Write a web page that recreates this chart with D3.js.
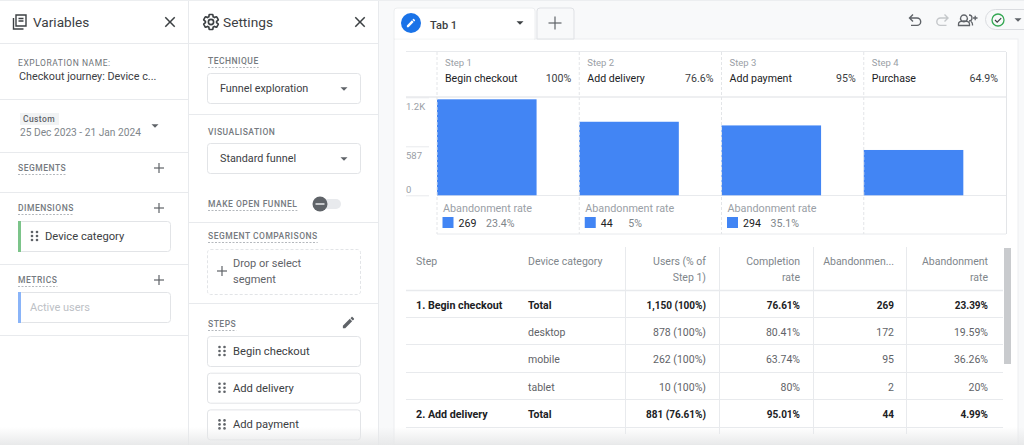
<!DOCTYPE html>
<html>
<head>
<meta charset="utf-8">
<script src="https://cdn.jsdelivr.net/npm/d3@7/dist/d3.min.js"></script>
<style>
  html, body { margin: 0; padding: 0; background: #fff; overflow: hidden; }
  svg { display: block; font-family: Roboto, sans-serif; }
</style>
</head>
<body>
<script>
// funnel chart data
var steps = ["Begin checkout", "Add delivery", "Add payment", "Purchase"];
var stepUsers = [1150, 881, 837, 543];
var stepRates = ["100%", "76.6%", "95%", "64.9%"];
var abandonCounts = [269, 44, 294, null];
var abandonRates = ["23.4%", "5%", "35.1%", null];
var yTicks = [0, 587, 1174];
var yTickLabels = ["0", "587", "1.2K"];

// table data
var tableStep = ["1. Begin checkout", "", "", "", "2. Add delivery"];
var tableDevice = ["Total", "desktop", "mobile", "tablet", "Total"];
var tableUsers = ["1,150 (100%)", "878 (100%)", "262 (100%)", "10 (100%)", "881 (76.61%)"];
var tableCompletion = ["76.61%", "80.41%", "63.74%", "80%", "95.01%"];
var tableAbandons = ["269", "172", "95", "2", "44"];
var tableAbandonRate = ["23.39%", "19.59%", "36.26%", "20%", "4.99%"];
var tableBold = [true, false, false, false, true];

// side panel labels
var settingsSteps = ["Begin checkout", "Add delivery", "Add payment"];

var ICON_CLOSE = "M19 6.41L17.59 5 12 10.59 6.41 5 5 6.41 10.59 12 5 17.59 6.41 19 12 13.41 17.59 19 19 17.59 13.41 12z";
var ICON_GEAR = "M19.43 12.98c.04-.32.07-.64.07-.98s-.03-.66-.07-.98l2.11-1.65c.19-.15.24-.42.12-.64l-2-3.46c-.12-.22-.39-.3-.61-.22l-2.49 1c-.52-.4-1.08-.73-1.69-.98l-.38-2.65C14.46 2.18 14.25 2 14 2h-4c-.25 0-.46.18-.49.42l-.38 2.65c-.61.25-1.17.59-1.69.98l-2.49-1c-.23-.09-.49 0-.61.22l-2 3.46c-.13.22-.07.49.12.64l2.11 1.65c-.04.32-.07.65-.07.98s.03.66.07.98l-2.11 1.65c-.19.15-.24.42-.12.64l2 3.46c.12.22.39.3.61.22l2.49-1c.52.4 1.08.73 1.69.98l.38 2.65c.03.24.24.42.49.42h4c.25 0 .46-.18.49-.42l.38-2.65c.61-.25 1.17-.59 1.69-.98l2.49 1c.23.09.49 0 .61-.22l2-3.46c.12-.22.07-.49-.12-.64l-2.11-1.65zM12 15.5c-1.93 0-3.5-1.57-3.5-3.5s1.57-3.5 3.5-3.5 3.5 1.57 3.5 3.5-1.57 3.5-3.5 3.5z";
var ICON_EDIT = "M3 17.25V21h3.75L17.81 9.94l-3.75-3.75L3 17.25zM20.71 7.04c.39-.39.39-1.02 0-1.41l-2.34-2.34c-.39-.39-1.02-.39-1.41 0l-1.83 1.83 3.75 3.75 1.83-1.83z";

var BLUE = "#4285f4", LINE = "#e8eaed", DARK = "#3c4043", GREY = "#80868b";

var svg = d3.select("body").append("svg").attr("width", 1024).attr("height", 445);

function text(parent, x, y, str, size, color, opts) {
  opts = opts || {};
  return parent.append("text")
    .attr("x", x).attr("y", y)
    .attr("font-size", size)
    .attr("fill", color)
    .attr("font-weight", opts.weight || 400)
    .attr("letter-spacing", opts.spacing || null)
    .attr("text-anchor", opts.anchor || "start")
    .text(str);
}

function line(parent, x1, y1, x2, y2, color, dash) {
  return parent.append("line")
    .attr("x1", x1).attr("y1", y1).attr("x2", x2).attr("y2", y2)
    .attr("stroke", color || LINE)
    .attr("stroke-dasharray", dash || null);
}

function icon(parent, path, x, y, size, color) {
  return parent.append("path")
    .attr("d", path)
    .attr("fill", color)
    .attr("transform", "translate(" + x + "," + y + ") scale(" + size / 24 + ")");
}

function plus(parent, cx, cy, r, color) {
  line(parent, cx - r, cy, cx + r, cy, color || "#5f6368").attr("stroke-width", 1.2);
  line(parent, cx, cy - r, cx, cy + r, color || "#5f6368").attr("stroke-width", 1.2);
}

function caret(parent, cx, cy, color) {
  parent.append("path")
    .attr("d", d3.line()([[cx - 3.5, cy - 1.8], [cx + 3.5, cy - 1.8], [cx, cy + 1.8]]) + "Z")
    .attr("fill", color || "#5f6368");
}

function sectionLabel(parent, x, y, str, dashed) {
  var t = text(parent, x, y, str, 8.5, "#757a80", { spacing: "0.5px", weight: 500 });
  if (dashed) {
    var w = t.node().getComputedTextLength();
    line(parent, x, y + 3.5, x + w, y + 3.5, "#b4b8bd", "2 1.5");
  }
}

function box(parent, x, y, w, h, dash) {
  return parent.append("rect")
    .attr("x", x + 0.5).attr("y", y + 0.5)
    .attr("width", w).attr("height", h)
    .attr("rx", 3)
    .attr("fill", "#fff")
    .attr("stroke", "#e2e4e7")
    .attr("stroke-dasharray", dash || null);
}

function dragDots(parent, x, cy) {
  [-4, 0, 4].forEach(function (dy) {
    [0, 5].forEach(function (dx) {
      parent.append("circle")
        .attr("cx", x + dx).attr("cy", cy + dy).attr("r", 1.3)
        .attr("fill", "#5f6368");
    });
  });
}

function drawVariables(g) {
  g.append("path")
    .attr("d", "M16 15h10v11h-10zM13.5 18v11h10M18.5 18.5h5M18.5 21h5")
    .attr("fill", "none").attr("stroke", "#3c4043").attr("stroke-width", 1.4);
  text(g, 33, 27, "Variables", 13.6, DARK);
  icon(g, ICON_CLOSE, 161, 13, 18, "#3c4043");

  [43.5, 99.5, 152.5, 192.5, 264.5, 335.5].forEach(function (y) {
    line(g, 0, y, 188, y);
  });

  text(g, 18, 66, "EXPLORATION NAME:", 8.5, "#6f7479", { spacing: "0.55px" });
  text(g, 19, 80, "Checkout journey: Device c...", 10.8, DARK);

  g.append("rect").attr("x", 20).attr("y", 113).attr("width", 39).attr("height", 12).attr("fill", "#f1f3f4");
  text(g, 23, 122, "Custom", 8.5, "#5f6368", { spacing: "0.4px", weight: 500 });
  text(g, 20, 136, "25 Dec 2023 - 21 Jan 2024", 10.2, "#80868b");
  caret(g, 155, 126);

  sectionLabel(g, 18, 171, "SEGMENTS", true);
  plus(g, 159, 168, 5);
  sectionLabel(g, 18, 211, "DIMENSIONS", true);
  plus(g, 159, 208, 5);
  sectionLabel(g, 18, 283, "METRICS", true);
  plus(g, 159, 280, 5);

  box(g, 18, 221, 152, 30);
  g.append("rect").attr("x", 18).attr("y", 221).attr("width", 3).attr("height", 31).attr("fill", "#7cc48a");
  dragDots(g, 32, 236);
  text(g, 45, 240, "Device category", 11.2, DARK);

  box(g, 18, 292, 152, 30);
  g.append("rect").attr("x", 18).attr("y", 292).attr("width", 3).attr("height", 31).attr("fill", "#8ab4f8");
  text(g, 30, 311, "Active users", 11, "#bdc1c6");
}

function drawSettings(g) {
  line(g, 188.5, 0, 188.5, 445);
  line(g, 378.5, 0, 378.5, 445);
  icon(g, ICON_GEAR, 202, 13, 18, "none").attr("stroke", "#3c4043").attr("stroke-width", 2.2);
  text(g, 223, 27, "Settings", 13.7, DARK);
  icon(g, ICON_CLOSE, 351, 13, 18, "#3c4043");

  [43.5, 114.5, 222.5, 303.5].forEach(function (y) {
    line(g, 189, y, 378, y);
  });

  sectionLabel(g, 208, 64, "TECHNIQUE", true);
  box(g, 207, 73, 153, 30);
  text(g, 220, 92, "Funnel exploration", 10.8, DARK);
  caret(g, 344, 89);

  sectionLabel(g, 208, 135, "VISUALISATION", false);
  box(g, 207, 143, 153, 30);
  text(g, 220, 162, "Standard funnel", 10.8, DARK);
  caret(g, 344, 159);

  sectionLabel(g, 208, 207, "MAKE OPEN FUNNEL", true);
  g.append("rect").attr("x", 316).attr("y", 199).attr("width", 25).attr("height", 10).attr("rx", 5).attr("fill", "#e8eaed");
  g.append("circle").attr("cx", 320).attr("cy", 204).attr("r", 7.5).attr("fill", "#5f6368");
  line(g, 315.5, 204, 324.5, 204, "#e8eaed").attr("stroke-width", 1.5);

  sectionLabel(g, 208, 239, "SEGMENT COMPARISONS", true);
  box(g, 207, 249, 153, 45, "3 2");
  plus(g, 222, 271, 5);
  text(g, 233, 267, "Drop or select", 11, "#5f6368");
  text(g, 233, 283, "segment", 11, "#5f6368");

  sectionLabel(g, 208, 327, "STEPS", true);
  icon(g, ICON_EDIT, 341, 315, 15, "#5f6368");
  settingsSteps.forEach(function (name, i) {
    var top = 336 + i * 36.7;
    box(g, 207, top, 153, 30);
    dragDots(g, 219.5, top + 15);
    text(g, 233, top + 19, name, 11.2, DARK);
  });
}

function drawToolbar(g) {
  g.append("rect").attr("x", 379).attr("y", 0).attr("width", 645).attr("height", 445).attr("fill", "#f8f9fa");
  g.append("rect").attr("x", 394).attr("y", 39).attr("width", 624).attr("height", 406)
    .attr("fill", "#fff").attr("stroke", "#eceef0");

  // tabs
  g.append("path").attr("d", "M394 39V11q0-3 3-3H532q3 0 3 3V39z").attr("fill", "#fff").attr("stroke", "#eceef0");
  g.append("path").attr("d", "M537 39V11q0-3 3-3H571q3 0 3 3V39z").attr("fill", "#f8f9fa").attr("stroke", "#dfe1e5");
  line(g, 395, 39, 534, 39, "#fff");
  g.append("circle").attr("cx", 411).attr("cy", 23).attr("r", 10).attr("fill", "#1a73e8");
  icon(g, ICON_EDIT, 405.5, 17.5, 11, "#fff");
  text(g, 430, 29, "Tab 1", 11, DARK, { weight: 500 });
  caret(g, 520, 23, "#3c4043");
  plus(g, 555, 23, 6.5);

  // undo, redo, share, status
  g.append("path").attr("d", "M913 14.5l-3.5 3.5 3.5 3.5M910 18h7a3.7 3.7 0 0 1 0 7.4h-6")
    .attr("fill", "none").attr("stroke", "#5f6368").attr("stroke-width", 1.4);
  g.append("path").attr("d", "M944.5 14.5l3.5 3.5-3.5 3.5M947.5 18h-7a3.7 3.7 0 0 0 0 7.4h6")
    .attr("fill", "none").attr("stroke", "#c4c7ca").attr("stroke-width", 1.4);
  g.append("path").attr("d", "M964 15a3.4 3.4 0 1 1-.1 0zM958.5 25.5v-1.5q0-3 5.5-3t5.5 3v1.5zM969 15a3 3 0 0 1 0 6M971 21.5q1.5 1 1.5 3v1M973 18h4.5M975.2 15.8v4.5")
    .attr("fill", "none").attr("stroke", "#5f6368").attr("stroke-width", 1.3);
  g.append("rect").attr("x", 985.5).attr("y", 9.5).attr("width", 60).attr("height", 20).attr("rx", 10)
    .attr("fill", "#f8f9fa").attr("stroke", "#dadce0");
  g.append("circle").attr("cx", 998).attr("cy", 20).attr("r", 6).attr("fill", "none").attr("stroke", "#34a853").attr("stroke-width", 1.3);
  g.append("path").attr("d", "M995 20l2.2 2.2 4-4").attr("fill", "none").attr("stroke", "#3c4043").attr("stroke-width", 1.2);
  caret(g, 1018, 20);
}

function drawFunnel(g) {
  var x = d3.scaleBand().domain(steps).range([437, 1006]);
  var y = d3.scaleLinear().domain([0, 1174]).range([195.3, 97.3]);
  var barWidth = x.bandwidth() * 0.7;

  line(g, 406, 51.5, 1006, 51.5);
  line(g, 406, 97, 1006, 97).attr("stroke-width", 1.5);
  line(g, 437, 195.5, 1006, 195.5);
  line(g, 437, 234, 1006, 234);

  var axis = d3.axisLeft(y)
    .tickValues(yTicks)
    .tickSize(23)
    .tickPadding(0)
    .tickFormat(function (d) { return yTickLabels[yTicks.indexOf(d)]; });

  var axisG = g.append("g").attr("transform", "translate(429,0)").call(axis);
  axisG.select(".domain").remove();
  axisG.selectAll(".tick line").attr("stroke", LINE);
  axisG.selectAll(".tick text")
    .attr("x", -23)
    .attr("text-anchor", "start")
    .attr("font-family", "Roboto, sans-serif")
    .attr("font-size", 9.5)
    .attr("fill", "#9aa0a6")
    .attr("dy", function (d) { return d === 0 ? "-2.5" : "12"; });

  var col = g.selectAll("g.step").data(steps).enter().append("g")
    .attr("class", "step")
    .attr("transform", function (d) { return "translate(" + x(d) + ",0)"; });

  col.append("rect")
    .attr("y", function (d, i) { return y(stepUsers[i]); })
    .attr("width", barWidth)
    .attr("height", function (d, i) { return y(0) - y(stepUsers[i]); })
    .attr("fill", BLUE);

  x.domain().concat("end").forEach(function (d) {
    var px = d === "end" ? 1006.5 : x(d);
    line(g, px, 52, px, 234, "#e3e5e8", d === "end" ? null : "3 2");
  });

  col.each(function (d, i) {
    var c = d3.select(this), w = x.bandwidth();
    text(c, 8, 66, "Step " + (i + 1), 9.5, "#9aa0a6");
    text(c, 8, 82, d, 10.6, "#202124");
    text(c, w - 8, 82, stepRates[i], 10.6, DARK, { anchor: "end" });
    if (abandonCounts[i] === null) return;
    text(c, 6, 212, "Abandonment rate", 10.8, "#9aa0a6");
    c.append("rect").attr("x", 5.5).attr("y", 217).attr("width", 11).attr("height", 11).attr("fill", BLUE);
    text(c, 21.5, 227, abandonCounts[i], 10.6, "#202124");
    text(c, 49, 227, abandonRates[i], 10.6, "#80868b");
  });
}

function drawTable(g) {
  var rowTops = [290, 317, 344, 372, 399, 427];
  var columns = [tableUsers, tableCompletion, tableAbandons, tableAbandonRate];
  var rightEdges = [706, 800, 894, 988];

  text(g, 416, 265, "Step", 10.5, "#80868b");
  text(g, 528, 265, "Device category", 10.5, "#80868b");
  text(g, 706, 265, "Users (% of", 10.5, "#80868b", { anchor: "end" });
  text(g, 706, 281, "Step 1)", 10.5, "#80868b", { anchor: "end" });
  text(g, 800, 265, "Completion", 10.5, "#80868b", { anchor: "end" });
  text(g, 800, 281, "rate", 10.5, "#80868b", { anchor: "end" });
  text(g, 894, 265, "Abandonmen...", 10.5, "#80868b", { anchor: "end" });
  text(g, 988, 265, "Abandonment", 10.5, "#80868b", { anchor: "end" });
  text(g, 988, 281, "rate", 10.5, "#80868b", { anchor: "end" });

  [625.5, 719.5, 813.5, 906.5].forEach(function (px) {
    line(g, px, 247, px, 434);
  });
  rowTops.forEach(function (ry, i) {
    line(g, 406, ry + 0.5, 1003, ry + 0.5).attr("stroke-width", i === 0 ? 1.5 : 1);
  });

  tableDevice.forEach(function (device, r) {
    var baseline = rowTops[r] + 18.5;
    var bold = tableBold[r];
    var weight = bold ? 700 : 400;
    var color = bold ? "#202124" : "#5f6368";
    text(g, 416, baseline, tableStep[r], 10.7, "#202124", { weight: weight });
    text(g, 528, baseline, device, 10.5, color, { weight: weight });
    columns.forEach(function (values, c) {
      text(g, rightEdges[c], baseline, values[r], bold ? 10 : 10.5, color, { weight: weight, anchor: "end" });
    });
  });

  g.append("rect").attr("x", 1004).attr("y", 248).attr("width", 7).attr("height", 116).attr("fill", "#c9cbce");
}

function drawFade(g) {
  var grad = svg.append("defs").append("linearGradient")
    .attr("id", "fade").attr("x1", 0).attr("y1", 0).attr("x2", 0).attr("y2", 1);
  grad.append("stop").attr("offset", 0).attr("stop-color", "#e6e7e8").attr("stop-opacity", 0);
  grad.append("stop").attr("offset", 1).attr("stop-color", "#e6e7e8").attr("stop-opacity", 0.9);
  g.append("rect").attr("x", 0).attr("y", 427).attr("width", 1024).attr("height", 18).attr("fill", "url(#fade)");
  line(g, 0, 0.5, 1024, 0.5, "#eceef0");
}

drawToolbar(svg.append("g"));
drawVariables(svg.append("g"));
drawSettings(svg.append("g"));
drawFunnel(svg.append("g"));
drawTable(svg.append("g"));
drawFade(svg.append("g"));
</script>
</body>
</html>
